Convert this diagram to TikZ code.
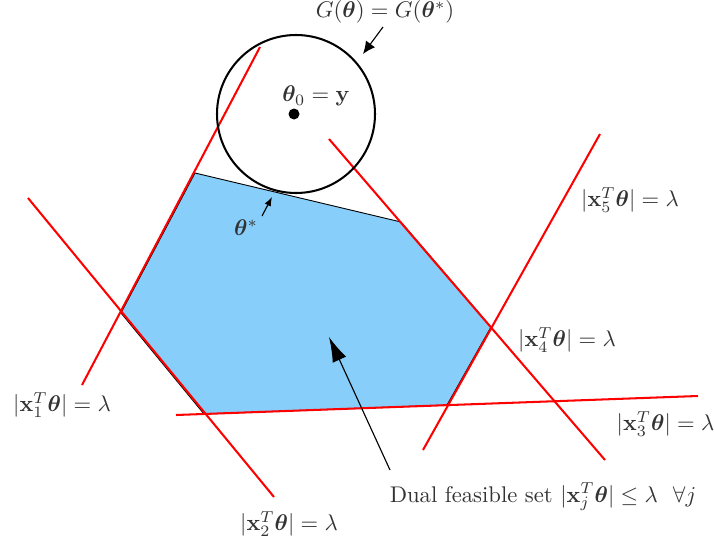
\documentclass[tikz,border=0pt]{standalone}
\usepackage{amsmath,amssymb,bm}
\usepackage{xcolor}
\usepackage{tikz}
\usetikzlibrary{arrows.meta,positioning,calc}
\definecolor{azulRegiao}{RGB}{135,206,250}
\tikzset{
    restricao/.style={red, line width=0.9pt},
    regiao/.style={fill=azulRegiao, draw=black, line width=0.4pt},
    bola/.style={draw=black, line width=0.9pt},
    rotulo/.style={text=black!80, inner sep=1pt},
    seta/.style 2 args={-{Latex[length=#1, width=#2]}, black, line width=0.5pt}
}

\begin{document}
\begin{tikzpicture}[x=0.0155cm, y=-0.0155cm, font=\normalsize]
    \useasboundingbox (0,0) rectangle (714,548);

    % vertices of the feasible set
    \coordinate (vEsq) at (121,313);
    \coordinate (vSupEsq) at (195,173);
    \coordinate (vSupDir) at (401,222);
    \coordinate (vDir) at (491,327);
    \coordinate (vInfDir) at (447,405);
    \coordinate (vInfEsq) at (204,414);

    \draw[regiao] (vEsq) -- (vSupEsq) -- (vSupDir) -- (vDir)
        -- (vInfDir) -- (vInfEsq) -- cycle;

    % constraint lines
    \coordinate (r1a) at (82,385);   \coordinate (r1b) at (260,47);
    \coordinate (r2a) at (28,198);   \coordinate (r2b) at (274,497);
    \coordinate (r3a) at (176,415);  \coordinate (r3b) at (698,396);
    \coordinate (r4a) at (329,139);  \coordinate (r4b) at (605,460);
    \coordinate (r5a) at (600,134);  \coordinate (r5b) at (423,450);
    \foreach \r in {1,...,5}
        \draw[restricao] (r\r a) -- (r\r b);

    % ball around y
    \node[bola, circle, minimum size=158*0.0155cm, inner sep=0pt] (bola) at (296,114) {};
    \fill (294,114) circle (5.5*0.0155cm);
    \node[rotulo] (centro) at (316,96) {$\bm{\theta}_0 = \mathbf{y}$};

    % labels
    \node[rotulo] (rot1) at (62,405) {$|\mathbf{x}_1^T\bm{\theta}| = \lambda$};
    \node[rotulo] (rot2) at (289,524) {$|\mathbf{x}_2^T\bm{\theta}| = \lambda$};
    \node[rotulo, anchor=west] (rot3) at (614,424) {$|\mathbf{x}_3^T\bm{\theta}| = \lambda$};
    \node[rotulo] (rot4) at (567,340) {$|\mathbf{x}_4^T\bm{\theta}| = \lambda$};
    \node[rotulo] (rot5) at (630,200) {$|\mathbf{x}_5^T\bm{\theta}| = \lambda$};
    \node[rotulo] (rotG) at (385,12) {$G(\bm{\theta}) = G(\bm{\theta}^{*})$};
    \node[rotulo] (rotOtimo) at (246,228) {$\bm{\theta}^{*}$};
    \node[rotulo] (rotViavel) at (543,497)
        {Dual feasible set $|\mathbf{x}_j^T\bm{\theta}| \leq \lambda \ \ \forall j$};

    % arrows
    \coordinate (gIni) at (383,27);    \coordinate (gFim) at (363,54);
    \coordinate (oIni) at (262,216);   \coordinate (oFim) at (272,197);
    \coordinate (vIni) at (390,470);   \coordinate (vFim) at (329,337);
    \draw[seta={5.5pt}{5pt}] (gIni) -- (gFim);
    \draw[seta={4pt}{3pt}] (oIni) -- (oFim);
    \draw[seta={11pt}{6.5pt}] (vIni) -- (vFim);
\end{tikzpicture}
\end{document}
